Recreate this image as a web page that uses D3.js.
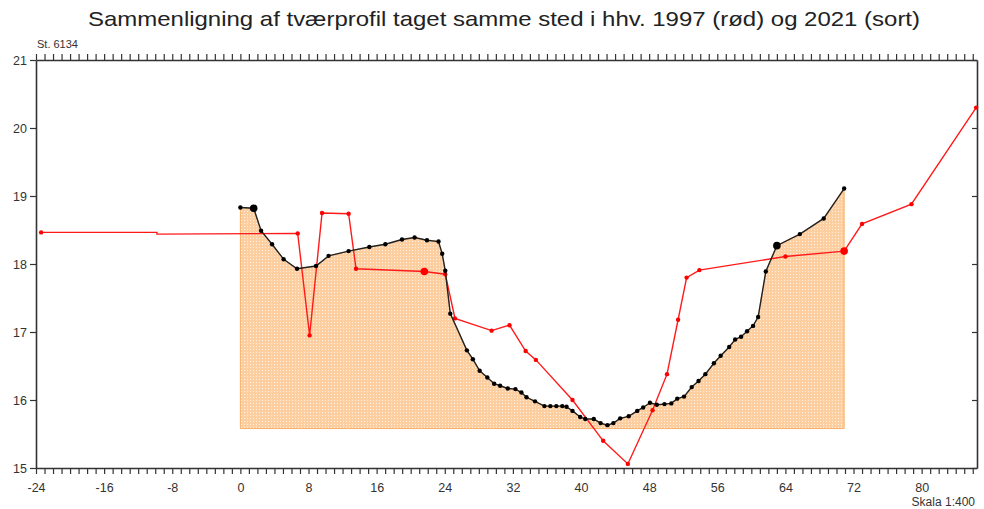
<!DOCTYPE html>
<html>
<head>
<meta charset="utf-8">
<script src="https://cdn.jsdelivr.net/npm/d3@7"></script>
<style>
  body { margin: 0; background: #fff; }
  svg { display: block; font-family: "Liberation Sans", Arial, sans-serif; }
</style>
</head>
<body>
<div id="container"></div>
<script>
// 2021 profile (black): distance, level
const sortX = [0, 1.56, 2.43, 3.72, 5.08, 6.65, 8.88, 10.36, 12.71, 15.14, 17.02, 18.98, 20.46, 21.91, 23.27, 23.7, 24.06,
  24.65, 26.6, 27.3, 28.1, 29.0, 29.8, 30.5, 31.4, 32.3, 33.0, 33.6, 34.6, 35.7, 36.4, 37.1, 37.8, 38.3, 39.0, 39.9,
  40.5, 41.5, 42.3, 43.1, 43.8, 44.6, 45.6, 46.6, 47.3, 48.1, 48.9, 49.8, 50.6, 51.3, 52.1, 53.0, 53.8, 54.6, 55.6,
  56.4, 57.4, 58.1, 58.8, 59.5, 60.2, 60.8, 61.7, 63.0, 65.7, 68.5, 70.9];
const sortY = [18.83, 18.82, 18.49, 18.29, 18.07, 17.93, 17.97, 18.12, 18.19, 18.25, 18.29, 18.36, 18.39, 18.35, 18.33, 18.15, 17.90,
  17.27, 16.73, 16.60, 16.43, 16.33, 16.24, 16.21, 16.17, 16.16, 16.11, 16.04, 15.98, 15.91, 15.91, 15.91, 15.91, 15.90, 15.84, 15.75,
  15.72, 15.72, 15.66, 15.63, 15.66, 15.73, 15.76, 15.84, 15.89, 15.96, 15.93, 15.94, 15.95, 16.02, 16.05, 16.19, 16.28, 16.38, 16.54,
  16.65, 16.78, 16.89, 16.93, 17.01, 17.09, 17.22, 17.89, 18.27, 18.44, 18.67, 19.11];
const sortBig = [1.56, 63.0];

// 1997 profile (red)
const roedX = [-23.4, -9.8, -9.8, 6.73, 8.13, 9.59, 12.71, 13.58, 21.6, 24.06, 25.2, 29.5, 31.6, 33.5, 34.7, 39.0, 42.6,
  45.5, 48.4, 50.1, 51.4, 52.4, 53.9, 64.0, 70.9, 73.0, 78.8, 86.4];
const roedY = [18.465, 18.465, 18.44, 18.45, 16.95, 18.75, 18.74, 17.93, 17.89, 17.85, 17.20, 17.02, 17.10, 16.72, 16.59, 16.00, 15.40,
  15.06, 15.85, 16.38, 17.18, 17.80, 17.91, 18.11, 18.19, 18.59, 18.88, 20.30];
const roedNoMark = [1, 2];
const roedBig = [21.6, 70.9];

const areaBottom = 15.58;
const xTicks = d3.range(-24, 87);
const yTicks = [15, 16, 17, 18, 19, 20, 21];

const width = 984, height = 509;
const margin = { top: 60, right: 7, bottom: 41, left: 36 };

const svg = d3.select("#container").append("svg")
  .attr("width", width).attr("height", height);

const x = d3.scaleLinear().domain([-24, 86.5]).range([margin.left, width - margin.right]);
const y = d3.scaleLinear().domain([15, 21]).range([height - margin.bottom, margin.top]);

// dotted fill pattern
const pat = svg.append("defs").append("pattern")
  .attr("id", "dots").attr("width", 3).attr("height", 3)
  .attr("patternUnits", "userSpaceOnUse");
pat.append("rect").attr("width", 3).attr("height", 3).attr("fill", "#fccea0");
pat.append("rect").attr("x", 1).attr("y", 1).attr("width", 1).attr("height", 1).attr("fill", "#fff0e2");

const sort = sortX.map((d, i) => ({ x: d, y: sortY[i] }));
const roed = roedX.map((d, i) => ({ x: d, y: roedY[i], i }));

// area under 2021 profile
svg.append("path")
  .datum(sort)
  .attr("d", d3.area().x(d => x(d.x)).y0(y(areaBottom)).y1(d => y(d.y)))
  .attr("fill", "url(#dots)")
  .attr("stroke", "#f7b06c")
  .attr("stroke-width", 1);

// axes / frame
const axisStyle = g => {
  g.select(".domain").attr("stroke", "#333").attr("stroke-width", 1.6);
  g.selectAll(".tick line").attr("stroke", "#333").attr("stroke-width", 1.2);
  g.selectAll(".tick text").attr("fill", "#333").attr("font-size", 12.5);
};

svg.append("g")
  .attr("transform", `translate(0,${y(21)})`)
  .call(d3.axisTop(x).tickValues(xTicks).tickFormat("").tickSize(6).tickSizeOuter(0))
  .call(axisStyle);

svg.append("g")
  .attr("transform", `translate(0,${y(15)})`)
  .call(d3.axisBottom(x).tickValues(xTicks).tickSize(6).tickSizeOuter(0).tickPadding(9)
    .tickFormat(d => (d + 24) % 8 === 0 ? d : ""))
  .call(axisStyle);

svg.append("g")
  .attr("transform", `translate(${x(-24)},0)`)
  .call(d3.axisLeft(y).tickValues(yTicks).tickSize(6).tickSizeOuter(0).tickPadding(3).tickFormat(d3.format("d")))
  .call(axisStyle);

svg.append("g")
  .attr("transform", `translate(${x(86.5)},0)`)
  .call(d3.axisRight(y).tickValues(yTicks).tickSize(-5).tickSizeOuter(0).tickFormat(""))
  .call(axisStyle);

// 1997 red line
svg.append("path")
  .datum(roed)
  .attr("d", d3.line().x(d => x(d.x)).y(d => y(d.y)))
  .attr("fill", "none")
  .attr("stroke", "#ff1a1a")
  .attr("stroke-width", 1.4);

svg.selectAll("circle.roed")
  .data(roed.filter(d => !roedNoMark.includes(d.i)))
  .join("circle")
    .attr("class", "roed")
    .attr("cx", d => x(d.x))
    .attr("cy", d => y(d.y))
    .attr("r", d => roedBig.includes(d.x) ? 3.8 : 2.2)
    .attr("fill", "#ff0000");

// 2021 black line
svg.append("path")
  .datum(sort)
  .attr("d", d3.line().x(d => x(d.x)).y(d => y(d.y)))
  .attr("fill", "none")
  .attr("stroke", "#222")
  .attr("stroke-width", 1.4);

svg.selectAll("circle.sort")
  .data(sort)
  .join("circle")
    .attr("class", "sort")
    .attr("cx", d => x(d.x))
    .attr("cy", d => y(d.y))
    .attr("r", d => sortBig.includes(d.x) ? 3.8 : 2.2)
    .attr("fill", "#000");

// texts
svg.append("text")
  .attr("x", 504).attr("y", 26)
  .attr("text-anchor", "middle")
  .attr("font-size", 21)
  .attr("fill", "#222")
  .attr("textLength", 832).attr("lengthAdjust", "spacingAndGlyphs")
  .text("Sammenligning af tværprofil taget samme sted i hhv. 1997 (rød) og 2021 (sort)");

svg.append("text")
  .attr("x", 37).attr("y", 48)
  .attr("font-size", 11).attr("fill", "#333")
  .text("St. 6134");

svg.append("text")
  .attr("x", 975).attr("y", 506)
  .attr("text-anchor", "end")
  .attr("font-size", 12).attr("fill", "#333")
  .text("Skala 1:400");
</script>
</body>
</html>
